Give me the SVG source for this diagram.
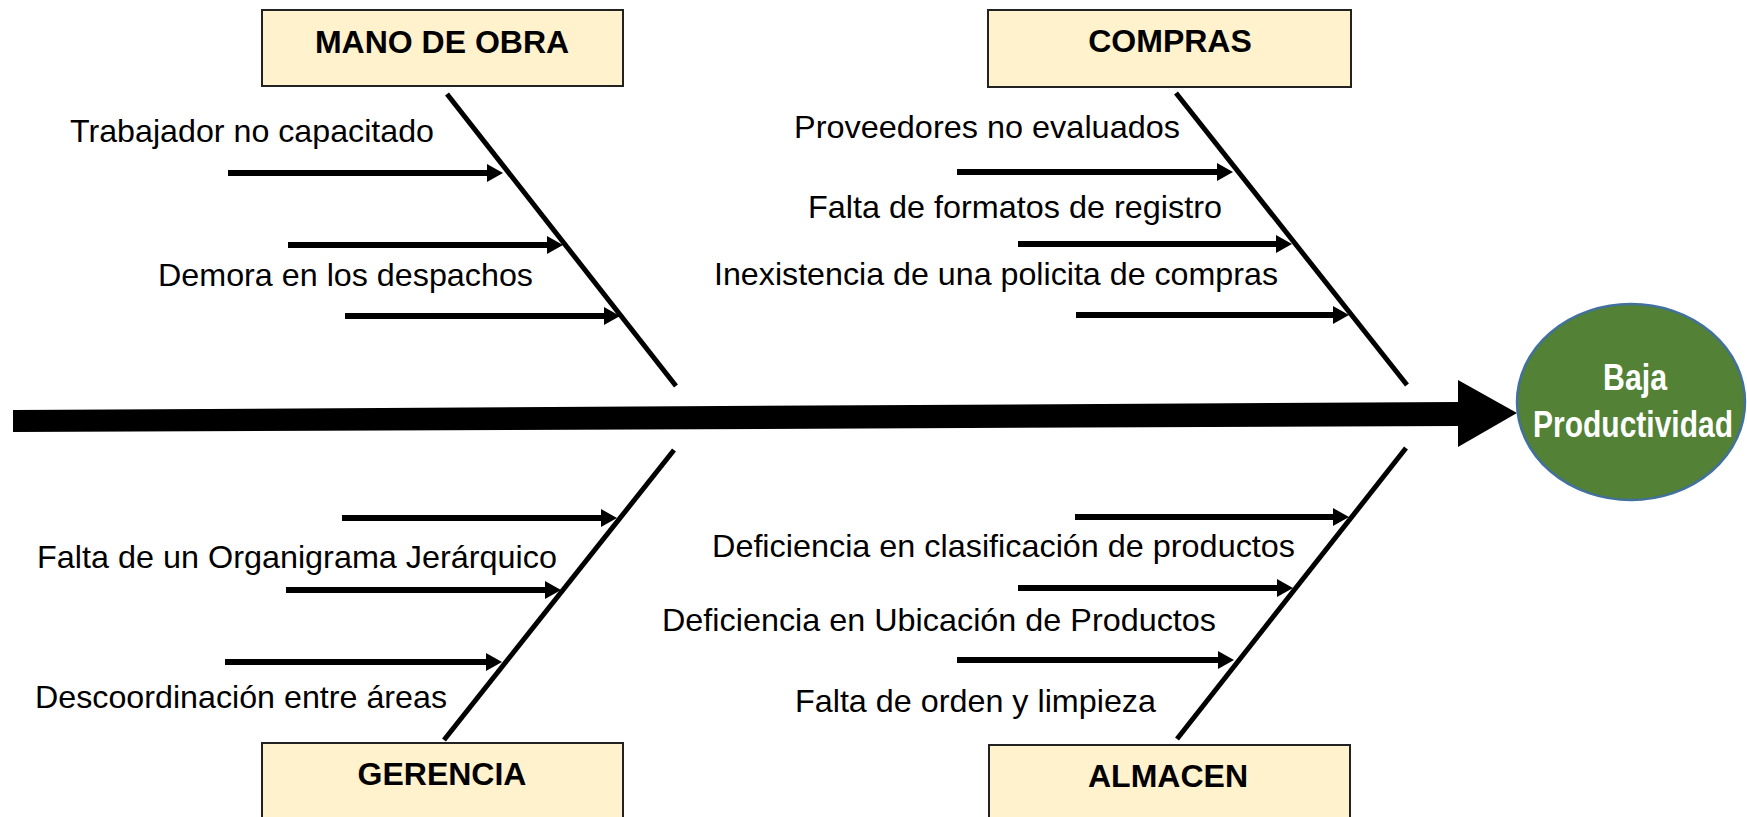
<svg xmlns="http://www.w3.org/2000/svg" width="1747" height="817" viewBox="0 0 1747 817">
<defs>
<marker id="ah" markerUnits="userSpaceOnUse" markerWidth="18" markerHeight="20" refX="1" refY="9" orient="auto">
<path d="M0,0 L16,9 L0,18 z" fill="#000"/>
</marker>
<style>
.box{fill:#FFF2CC;stroke:#222;stroke-width:2}
.cat{font-family:"Liberation Sans",Arial,sans-serif;font-weight:bold;font-size:32px;fill:#000;text-anchor:middle}
.lbl{font-family:"Liberation Sans",Arial,sans-serif;font-size:32px;fill:#000}
.bone{stroke:#000;stroke-width:5;fill:none}
.arr{stroke:#000;stroke-width:6;fill:none;marker-end:url(#ah)}
</style>
</defs>
<rect width="1747" height="817" fill="#fff"/>
<g id="connectors">
<polygon id="spine" points="13,410 1458,402 1458,380 1517,413 1458,447 1458,426 13,432" fill="#000"/>
<line class="bone" x1="447" y1="94" x2="676" y2="386"/>
<line class="bone" x1="1176" y1="93" x2="1407" y2="385"/>
<line class="bone" x1="674" y1="450" x2="444" y2="740"/>
<line class="bone" x1="1406" y1="448" x2="1177" y2="739"/>
<line class="arr" x1="228" y1="173" x2="488" y2="173"/>
<line class="arr" x1="288" y1="245" x2="548" y2="245"/>
<line class="arr" x1="345" y1="316" x2="605" y2="316"/>
<line class="arr" x1="957" y1="172" x2="1218" y2="172"/>
<line class="arr" x1="1018" y1="244" x2="1277" y2="244"/>
<line class="arr" x1="1076" y1="315" x2="1334" y2="315"/>
<line class="arr" x1="342" y1="518" x2="602" y2="518"/>
<line class="arr" x1="286" y1="590" x2="546" y2="590"/>
<line class="arr" x1="225" y1="662" x2="487" y2="662"/>
<line class="arr" x1="1075" y1="517" x2="1334" y2="517"/>
<line class="arr" x1="1018" y1="588" x2="1278" y2="588"/>
<line class="arr" x1="957" y1="660" x2="1219" y2="660"/>
</g>
<g id="mano-de-obra">
<rect class="box" x="262" y="10" width="361" height="76"/>
<text class="cat" x="442" y="53">MANO DE OBRA</text>
</g>
<g id="compras">
<rect class="box" x="988" y="10" width="363" height="77"/>
<text class="cat" x="1170" y="52">COMPRAS</text>
</g>
<g id="gerencia">
<rect class="box" x="262" y="743" width="361" height="80"/>
<text class="cat" x="442" y="785">GERENCIA</text>
</g>
<g id="almacen">
<rect class="box" x="989" y="745" width="361" height="80"/>
<text class="cat" x="1168" y="787">ALMACEN</text>
</g>
<g id="effect">
<ellipse cx="1631" cy="402" rx="114" ry="98" fill="#538135" stroke="#41719C" stroke-width="2.5"/>
<text x="1635" y="390" font-family="'Liberation Sans',Arial,sans-serif" font-weight="bold" font-size="36" fill="#fff" text-anchor="middle" textLength="64" lengthAdjust="spacingAndGlyphs">Baja</text>
<text x="1633" y="437" font-family="'Liberation Sans',Arial,sans-serif" font-weight="bold" font-size="36" fill="#fff" text-anchor="middle" textLength="200" lengthAdjust="spacingAndGlyphs">Productividad</text>
</g>
<g id="causes-mano-de-obra">
<text class="lbl" x="70" y="142" textLength="364" lengthAdjust="spacingAndGlyphs">Trabajador no capacitado</text>
<text class="lbl" x="158" y="286" textLength="375" lengthAdjust="spacingAndGlyphs">Demora en los despachos</text>
</g>
<g id="causes-compras">
<text class="lbl" x="794" y="138" textLength="386" lengthAdjust="spacingAndGlyphs">Proveedores no evaluados</text>
<text class="lbl" x="808" y="218" textLength="414" lengthAdjust="spacingAndGlyphs">Falta de formatos de registro</text>
<text class="lbl" x="714" y="285" textLength="564" lengthAdjust="spacingAndGlyphs">Inexistencia de una policita de compras</text>
</g>
<g id="causes-gerencia">
<text class="lbl" x="37" y="568" textLength="520" lengthAdjust="spacingAndGlyphs">Falta de un Organigrama Jerárquico</text>
<text class="lbl" x="35" y="708" textLength="412" lengthAdjust="spacingAndGlyphs">Descoordinación entre áreas</text>
</g>
<g id="causes-almacen">
<text class="lbl" x="712" y="557" textLength="583" lengthAdjust="spacingAndGlyphs">Deficiencia en clasificación de productos</text>
<text class="lbl" x="662" y="631" textLength="554" lengthAdjust="spacingAndGlyphs">Deficiencia en Ubicación de Productos</text>
<text class="lbl" x="795" y="712" textLength="361" lengthAdjust="spacingAndGlyphs">Falta de orden y limpieza</text>
</g>
</svg>
